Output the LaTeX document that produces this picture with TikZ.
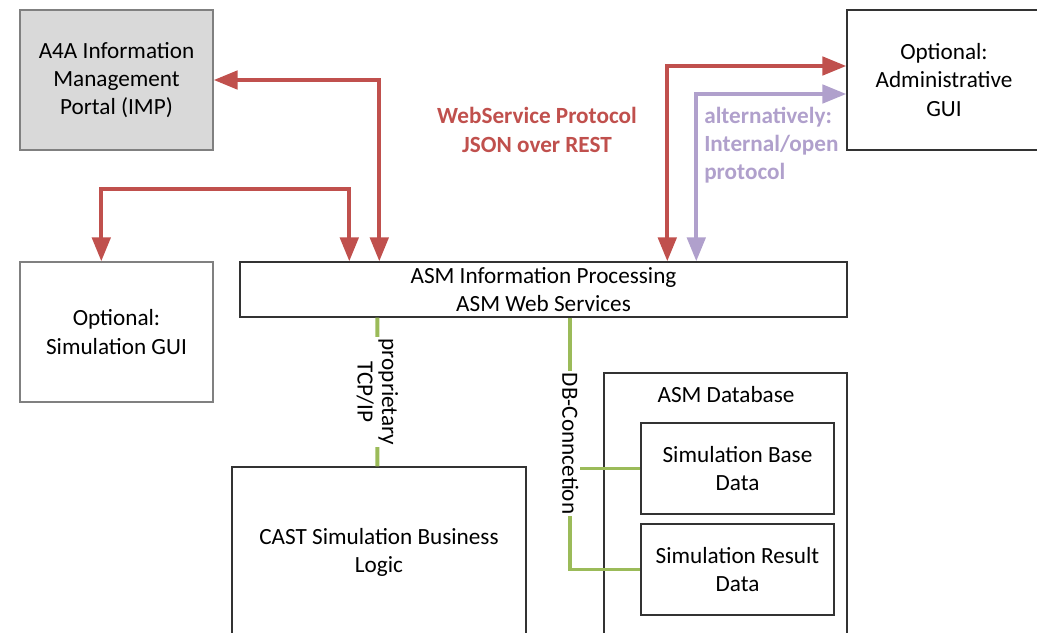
\documentclass[tikz,border=0pt]{standalone}
\usepackage{fontspec}
\setmainfont{Carlito}
\usetikzlibrary{arrows.meta}
\definecolor{vermelho}{RGB}{192,80,77}
\definecolor{lilas}{RGB}{176,160,204}
\definecolor{verde}{RGB}{155,187,89}
\begin{document}
\begin{tikzpicture}
\tikzset{
    >={Triangle[length=17pt, width=13pt]},
    caixa/.style={rectangle, line width=1pt, draw=black!80, align=center,
                  inner sep=0pt, font=\fontsize{16.5}{20}\selectfont},
    seta/.style={<->, line width=2.8pt, vermelho},
    setalilas/.style={<->, line width=2.8pt, lilas},
    ligacao/.style={-, line width=2.8pt, verde},
    rotulo/.style={fill=white, rotate=-90, align=center, inner sep=1pt,
                   text=black, font=\fontsize{16.5}{17.5}\selectfont}
}
\useasboundingbox (0,0) rectangle (25.925,-15.825);
\node[caixa, fill=black!15, draw=black!50, minimum width=4.825cm, minimum height=3.5cm]
    (imp) at (2.9125,-2) {A4A Information\\Management\\Portal (IMP)};
\node[caixa, minimum width=4.85cm, minimum height=3.5cm]
    (admin) at (23.6,-2) {Optional:\\Administrative\\GUI};
\node[caixa, draw=black!50, minimum width=4.825cm, minimum height=3.5cm]
    (simgui) at (2.9125,-8.3) {Optional:\\Simulation GUI};
\node[caixa, minimum width=15.175cm, minimum height=1.375cm]
    (asm) at (13.5875,-7.2375) {ASM Information Processing\\ASM Web Services};
\node[caixa, minimum width=7.35cm, minimum height=4.25cm]
    (cast) at (9.475,-13.8) {CAST Simulation Business\\Logic};
\node[caixa, minimum width=6.075cm, minimum height=6.675cm]
    (db) at (18.1375,-12.6625) {};
\node[font=\fontsize{16.5}{20}\selectfont] (dbtitulo) at (18.15,-9.875) {ASM Database};
\node[caixa, minimum width=4.825cm, minimum height=2.275cm]
    (base) at (18.4375,-11.7125) {Simulation Base\\Data};
\node[caixa, minimum width=4.825cm, minimum height=2.275cm]
    (result) at (18.4375,-14.2375) {Simulation Result\\Data};
% protocolos
\node[font=\bfseries\fontsize{16.5}{20}\selectfont, text=vermelho, align=center]
    (ws) at (13.425,-3.25) {WebService Protocol\\JSON over REST};
\node[font=\bfseries\fontsize{16.5}{20}\selectfont, text=lilas, align=left,
      anchor=west, inner sep=0pt] (alt) at (17.6,-3.625) {alternatively:\\Internal/open\\protocol};
\draw[seta] (imp.east) -| ([xshift=3.5cm]asm.north west);
\draw[seta] ([xshift=2.05cm]simgui.north west) -- ++(0,1.8) -| ([xshift=2.75cm]asm.north west);
\draw[seta] ([xshift=10.7cm]asm.north west) |- ([yshift=0.35cm]admin.west);
\draw[setalilas] ([xshift=11.425cm]asm.north west) |- ([yshift=-0.35cm]admin.west);
% ligacoes
\coordinate (dbtopo) at ([xshift=8.275cm]asm.south west);
\draw[ligacao] (base.west) -- (base.west -| dbtopo);
\draw[ligacao] (dbtopo) |- node[rotulo, pos=0.25] {DB-Conncetion} (result.west);
\draw[ligacao] ([xshift=3.45cm]asm.south west) --
    node[rotulo] {proprietary\\TCP/IP} ([xshift=3.65cm]cast.north west);
\end{tikzpicture}
\end{document}
